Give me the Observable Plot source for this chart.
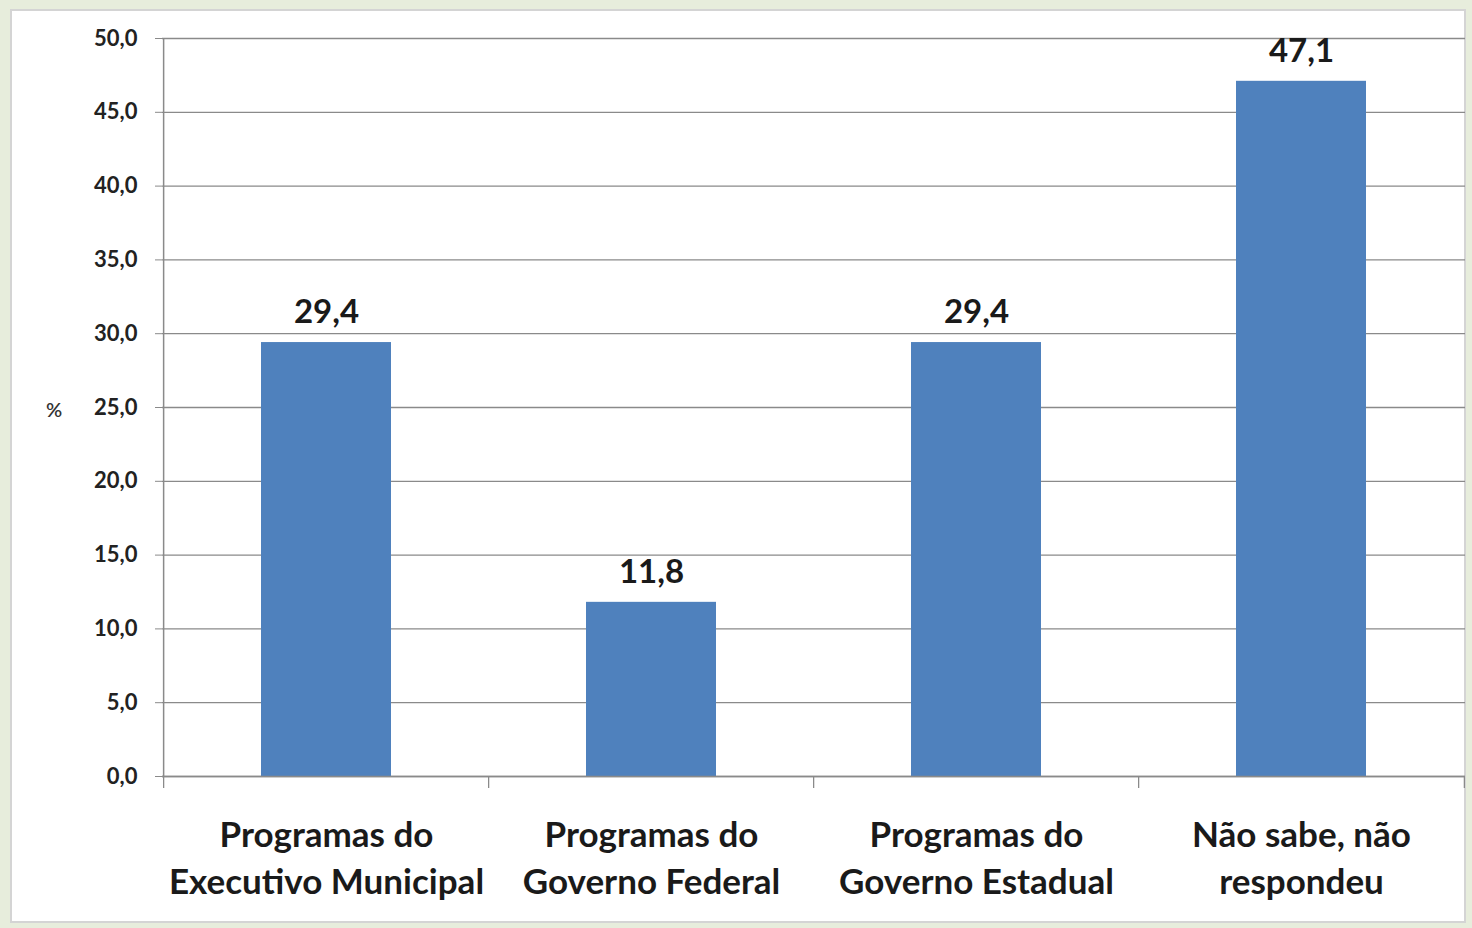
<!DOCTYPE html>
<html>
<head>
<meta charset="utf-8">
<script src="https://cdn.jsdelivr.net/npm/d3@7"></script>
<script src="https://cdn.jsdelivr.net/npm/@observablehq/plot@0.6"></script>
<style>
  html, body { margin: 0; padding: 0; }
  body { width: 1472px; height: 928px; background: #e7eddc; position: relative; overflow: hidden; font-family: Lato, "Open Sans", sans-serif; }
  #frame { position: absolute; left: 10px; top: 9px; width: 1456px; height: 914px; background: #fff; border: 2px solid #d4d4d4; box-sizing: border-box; }
  #chart { position: absolute; left: 0; top: 0; }
  #unit { position: absolute; left: 46px; top: 397px; font-size: 20px; color: #333; font-weight: 600; }
</style>
</head>
<body>
<div id="frame"></div>
<div id="chart"></div>
<div id="unit">%</div>
<script>
const categories = ["Programas do\nExecutivo Municipal", "Programas do\nGoverno Federal", "Programas do\nGoverno Estadual", "Não sabe, não\nrespondeu"];
const values = [29.4, 11.8, 29.4, 47.1];
const yTicks = [0, 5, 10, 15, 20, 25, 30, 35, 40, 45, 50];

const data = categories.map((c, i) => ({category: c, value: values[i]}));
const fmt = d => d.toFixed(1).replace(".", ",");

const W = 1472, H = 928;
const mL = 162, mR = 7, mT = 38, mB = 152;
const halfStep = (W - mL - mR) / categories.length / 2;

const plot = Plot.plot({
  width: W,
  height: H,
  marginLeft: mL,
  marginRight: mR,
  marginTop: mT,
  marginBottom: mB,
  style: {background: "transparent", fontFamily: "Lato, 'Open Sans', sans-serif", color: "#222"},
  x: {domain: categories, paddingInner: 0.6, paddingOuter: 0.3, label: null},
  y: {domain: [0, 50], label: null},
  marks: [
    Plot.gridY(yTicks, {stroke: "#8a8a8a", strokeOpacity: 1, strokeWidth: 1.3}),
    Plot.barY(data, {x: "category", y: "value", fill: "#4f81bd"}),
    Plot.text(data, {x: "category", y: "value", text: d => fmt(d.value), dy: -30, lineAnchor: "middle", fontSize: 33, fontWeight: "bold", fill: "#1a1a1a"}),
    Plot.ruleX(categories, {x: d => d, dx: -halfStep, y1: 0, y2: 0, insetBottom: -12, stroke: "#8a8a8a", strokeWidth: 1.3}),
    Plot.ruleX(categories.slice(-1), {x: d => d, dx: halfStep, y1: 0, y2: 0, insetBottom: -12, stroke: "#8a8a8a", strokeWidth: 1.3}),
    Plot.ruleY([0], {stroke: "#8a8a8a", strokeWidth: 1.5}),
    Plot.ruleX([0], {x: () => categories[0], dx: -halfStep, y1: 0, y2: 50, stroke: "#8a8a8a", strokeWidth: 1.5}),
    Plot.axisY(yTicks, {tickSize: 7, tickPadding: 18, tickFormat: fmt, fontSize: 22, fontWeight: "bold", stroke: "#8a8a8a", fill: "#222", label: null}),
    Plot.axisX({tickSize: 0, tickPadding: 38, fontSize: 35, fontWeight: "bold", lineHeight: 1.32, fill: "#1a1a1a", label: null})
  ]
});
document.getElementById("chart").appendChild(plot);
</script>
</body>
</html>
